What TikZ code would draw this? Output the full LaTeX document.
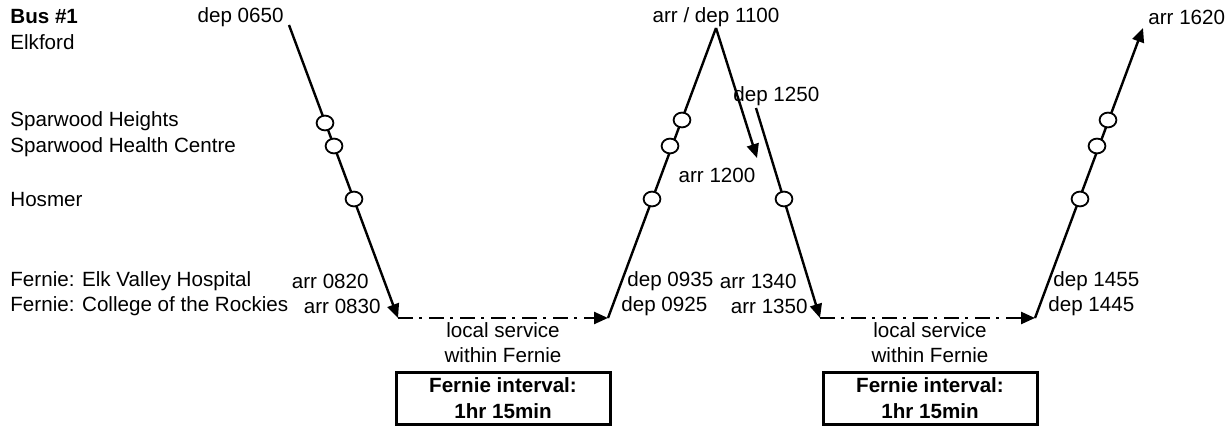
\documentclass[tikz,border=0pt]{standalone}
\usepackage{fontspec}
\setmainfont{Liberation Sans}
\usetikzlibrary{arrows.meta}

\tikzset{
  route/.style={line width=1.2pt},
  tip/.style={-{Triangle[length=7pt,width=6pt]}},
  local/.style={line width=1.2pt, dash pattern=on 7.5pt off 3pt on 1.5pt off 3.5pt},
  stop/.style={draw, fill=white, line width=0.9pt},
  lbl/.style={inner sep=0pt, font=\fontsize{10.3}{12.5}\selectfont},
  intbox/.style={draw, line width=1.5pt, minimum width=107pt, minimum height=26pt,
    inner sep=0pt, align=center, font=\bfseries\fontsize{10.3}{13}\selectfont},
}

\begin{document}
\begin{tikzpicture}[x=0.5pt,y=-0.5pt]
\useasboundingbox (0,0) rectangle (1231,427);
\coordinate (A) at (289,25);
\coordinate (B) at (398,318);
\coordinate (C) at (608,318);
\coordinate (D) at (716,28);
\coordinate (E) at (757,158);
\coordinate (F) at (756,108);
\coordinate (G) at (820,318);
\coordinate (H) at (1035,318);
\coordinate (K) at (1143,28);

\draw[route,tip] (A) -- (B);
\draw[local,tip] (B) -- (C);
\draw[route] (C) -- (D);
\draw[route,tip] (D) -- (E);
\draw[route,tip] (F) -- (G);
\draw[local,tip] (G) -- (H);
\draw[route,tip] (H) -- (K);

\foreach \p in {(325,123),(334,146),(354,199),(682,120),(670,146),(652,199),
  (784,199),(1108,120),(1097,146),(1080,199)}
  \draw[stop] \p ellipse (4.2pt and 3.7pt);

% stop names
\node[lbl,anchor=west,font=\bfseries\fontsize{10.3}{12.5}\selectfont] (bus) at (10,17) {Bus \#1};
\node[lbl,anchor=west] (elk) at (10,42) {Elkford};
\node[lbl,anchor=west] (sph) at (10,121) {Sparwood Heights};
\node[lbl,anchor=west] (spc) at (10,147) {Sparwood Health Centre};
\node[lbl,anchor=west] (hos) at (10,200) {Hosmer};
\node[lbl,anchor=west] (evh) at (10,281) {Fernie: Elk Valley Hospital};
\node[lbl,anchor=west] (cor) at (10,306) {Fernie: College of the Rockies};

% times
\node[lbl,anchor=east] (t1) at (284,17) {dep 0650};
\node[lbl,anchor=east] (t2) at (369,281) {arr 0820};
\node[lbl,anchor=east] (t3) at (381,306) {arr 0830};
\node[lbl] (t4) at (716,17) {arr / dep 1100};
\node[lbl,anchor=west] (t5) at (627,281) {dep 0935};
\node[lbl,anchor=west] (t6) at (621,306) {dep 0925};
\node[lbl] (t7) at (717,175) {arr 1200};
\node[lbl,anchor=west] (t8) at (733,96) {dep 1250};
\node[lbl,anchor=east] (t9) at (797,281) {arr 1340};
\node[lbl,anchor=east] (t10) at (808,306) {arr 1350};
\node[lbl,anchor=west] (t11) at (1053,281) {dep 1455};
\node[lbl,anchor=west] (t12) at (1048,306) {dep 1445};
\node[lbl,anchor=west] (t13) at (1148,17) {arr 1620};

% Fernie
\node[lbl,align=center] (loc1) at (503,343) {local service\\within Fernie};
\node[lbl,align=center] (loc2) at (930,343) {local service\\within Fernie};
\node[intbox] (int1) at (503,398) {Fernie interval:\\1hr 15min};
\node[intbox] (int2) at (930,398) {Fernie interval:\\1hr 15min};
\end{tikzpicture}
\end{document}
